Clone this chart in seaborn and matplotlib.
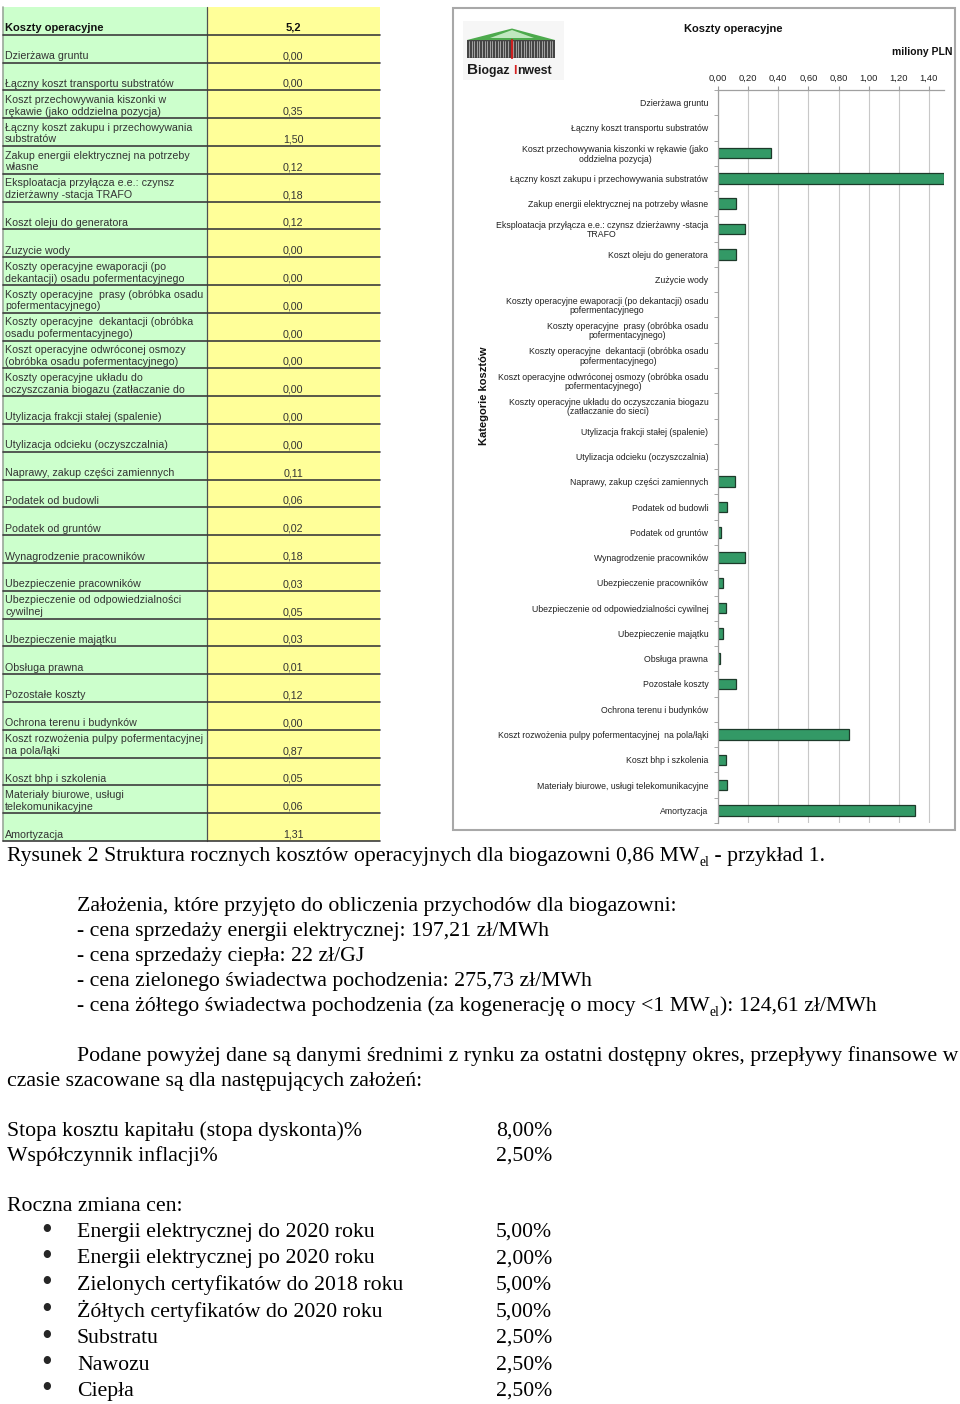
import numpy as np
import pandas as pd
import matplotlib
matplotlib.use("Agg")
import matplotlib.pyplot as plt
import seaborn as sns
from matplotlib.patches import Rectangle, Polygon

# ---------------- data ----------------
chart_labels = [
    "Dzierżawa gruntu",
    "Łączny koszt transportu substratów",
    "Koszt przechowywania kiszonki w rękawie (jako\noddzielna pozycja)",
    "Łączny koszt zakupu i przechowywania substratów",
    "Zakup energii elektrycznej na potrzeby własne",
    "Eksploatacja przyłącza e.e.: czynsz dzierżawny -stacja\nTRAFO",
    "Koszt oleju do generatora",
    "Zużycie wody",
    "Koszty operacyjne ewaporacji (po dekantacji) osadu\npofermentacyjnego",
    "Koszty operacyjne  prasy (obróbka osadu\npofermentacyjnego)",
    "Koszty operacyjne  dekantacji (obróbka osadu\npofermentacyjnego)",
    "Koszt operacyjne odwróconej osmozy (obróbka osadu\npofermentacyjnego)",
    "Koszty operacyjne układu do oczyszczania biogazu\n(zatłaczanie do sieci)",
    "Utylizacja frakcji stałej (spalenie)",
    "Utylizacja odcieku (oczyszczalnia)",
    "Naprawy, zakup części zamiennych",
    "Podatek od budowli",
    "Podatek od gruntów",
    "Wynagrodzenie pracowników",
    "Ubezpieczenie pracowników",
    "Ubezpieczenie od odpowiedzialności cywilnej",
    "Ubezpieczenie majątku",
    "Obsługa prawna",
    "Pozostałe koszty",
    "Ochrona terenu i budynków",
    "Koszt rozwożenia pulpy pofermentacyjnej  na pola/łąki",
    "Koszt bhp i szkolenia",
    "Materiały biurowe, usługi telekomunikacyjne",
    "Amortyzacja",
]

table_labels = [
    "Dzierżawa gruntu",
    "Łączny koszt transportu substratów",
    "Koszt przechowywania kiszonki w\nrękawie (jako oddzielna pozycja)",
    "Łączny koszt zakupu i przechowywania\nsubstratów",
    "Zakup energii elektrycznej na potrzeby\nwłasne",
    "Eksploatacja przyłącza e.e.: czynsz\ndzierżawny -stacja TRAFO",
    "Koszt oleju do generatora",
    "Zuzycie wody",
    "Koszty operacyjne ewaporacji (po\ndekantacji) osadu pofermentacyjnego",
    "Koszty operacyjne  prasy (obróbka osadu\npofermentacyjnego)",
    "Koszty operacyjne  dekantacji (obróbka\nosadu pofermentacyjnego)",
    "Koszt operacyjne odwróconej osmozy\n(obróbka osadu pofermentacyjnego)",
    "Koszty operacyjne układu do\noczyszczania biogazu (zatłaczanie do",
    "Utylizacja frakcji stałej (spalenie)",
    "Utylizacja odcieku (oczyszczalnia)",
    "Naprawy, zakup części zamiennych",
    "Podatek od budowli",
    "Podatek od gruntów",
    "Wynagrodzenie pracowników",
    "Ubezpieczenie pracowników",
    "Ubezpieczenie od odpowiedzialności\ncywilnej",
    "Ubezpieczenie majątku",
    "Obsługa prawna",
    "Pozostałe koszty",
    "Ochrona terenu i budynków",
    "Koszt rozwożenia pulpy pofermentacyjnej\nna pola/łąki",
    "Koszt bhp i szkolenia",
    "Materiały biurowe, usługi\ntelekomunikacyjne",
    "Amortyzacja",
]

costs = [0.00, 0.00, 0.35, 1.50, 0.12, 0.18, 0.12, 0.00, 0.00, 0.00,
         0.00, 0.00, 0.00, 0.00, 0.00, 0.11, 0.06, 0.02, 0.18, 0.03,
         0.05, 0.03, 0.01, 0.12, 0.00, 0.87, 0.05, 0.06, 1.31]

x_ticks = [0.0, 0.2, 0.4, 0.6, 0.8, 1.0, 1.2, 1.4]
x_tick_labels = ["0,00", "0,20", "0,40", "0,60", "0,80", "1,00", "1,20", "1,40"]

chart_title = "Koszty operacyjne"
unit_label = "miliony PLN"
y_axis_label = "Kategorie kosztów"
table_header = "Koszty operacyjne"

caption_parts = [("Rysunek 2 Struktura rocznych kosztów operacyjnych dla biogazowni 0,86 MW", False),
                 ("el", True), (" - przykład 1.", False)]
assumption_lines = [
    [("Założenia, które przyjęto do obliczenia przychodów dla biogazowni:", False)],
    [("- cena sprzedaży energii elektrycznej: 197,21 zł/MWh", False)],
    [("- cena sprzedaży ciepła: 22 zł/GJ", False)],
    [("- cena zielonego świadectwa pochodzenia: 275,73 zł/MWh", False)],
    [("- cena żółtego świadectwa pochodzenia (za kogenerację o mocy <1 MW", False),
     ("el", True), ("): 124,61 zł/MWh", False)],
]
para_line1 = "Podane powyżej dane są danymi średnimi z rynku za ostatni dostępny okres, przepływy finansowe w"
para_line2 = "czasie szacowane są dla następujących założeń:"
rate_names = ["Stopa kosztu kapitału (stopa dyskonta)%", "Współczynnik inflacji%"]
rate_values = ["8,00%", "2,50%"]
change_title = "Roczna zmiana cen:"
change_names = ["Energii elektrycznej do 2020 roku", "Energii elektrycznej po 2020 roku",
                "Zielonych certyfikatów do 2018 roku", "Żółtych certyfikatów do 2020 roku",
                "Substratu", "Nawozu", "Ciepła"]
change_values = ["5,00%", "2,00%", "5,00%", "5,00%", "2,50%", "2,50%", "2,50%"]

# ---------------- setup ----------------
W, H = 960, 1404
sns.set_style("white")
plt.rcParams['font.family'] = ['Liberation Sans', 'DejaVu Sans']
SERIF = ['Liberation Serif', 'DejaVu Serif']

fig = plt.figure(figsize=(W / 100, H / 100), dpi=100)
page = fig.add_axes([0, 0, 1, 1], zorder=0)
page.set_xlim(0, W)
page.set_ylim(H, 0)
page.axis('off')


def box(l, t, r, b):
    return [l / W, 1 - b / H, (r - l) / W, (b - t) / H]


# ---------------- left table ----------------
T_TOP, ROW_H = 7.0, 27.8
n_rows = len(costs) + 1
T_BOT = T_TOP + ROW_H * n_rows
X_L, X_MID, X_R = 3, 207, 380
page.add_patch(Rectangle((X_L, T_TOP), X_MID - X_L, T_BOT - T_TOP, fc='#ccffcc', ec='none'))
page.add_patch(Rectangle((X_MID, T_TOP), X_R - X_MID, T_BOT - T_TOP, fc='#ffff99', ec='none'))
page.plot([X_L, X_L], [T_TOP, T_BOT], color='#9aa89a', lw=1.2)
page.plot([X_MID, X_MID], [T_TOP, T_BOT], color='#505050', lw=0.9)
for k in range(1, n_rows + 1):
    yb = T_TOP + ROW_H * k
    page.plot([X_L, X_R], [yb, yb], color='#3c3c3c', lw=1.2)

total = sum(costs)
page.text(5, T_TOP + ROW_H - 2, table_header, fontsize=8, fontweight='bold', color='#111',
          va='bottom', ha='left')
page.text(293, T_TOP + ROW_H - 2, f"{total:.1f}".replace('.', ','), fontsize=8,
          fontweight='bold', color='#111', va='bottom', ha='center')
for i, (lab, v) in enumerate(zip(table_labels, costs)):
    yb = T_TOP + ROW_H * (i + 2) - 1.5
    page.text(5, yb, lab, fontsize=7.7, color='#333', va='bottom', ha='left', linespacing=1.22)
    page.text(293, yb, f"{v:.2f}".replace('.', ','), fontsize=7.7, color='#333',
              va='bottom', ha='center')

# ---------------- chart frame, title, logo ----------------
page.add_patch(Rectangle((453, 8), 502, 822, fill=False, ec='#a8a8a8', lw=1.5))
page.text(733, 29, chart_title, ha='center', va='center', fontsize=8, fontweight='bold', color='#111')
page.text(953, 52, unit_label, ha='right', va='center', fontsize=7.5, fontweight='bold', color='#111')

# logo
page.add_patch(Rectangle((463, 21), 101, 59, fc='#f6f6f6', ec='none'))
page.add_patch(Polygon([(467, 40), (512, 28.5), (555, 40)], closed=True, fc='#4daa4d', ec='none'))
page.add_patch(Polygon([(490, 38), (512, 30), (534, 38)], closed=True, fc='#bfe8bf', ec='none'))
page.add_patch(Rectangle((467, 40), 88, 18, fc='#454545', ec='none'))
for xx in np.arange(469, 554, 2.6):
    page.plot([xx, xx], [41, 57], color='#c8c8c8', lw=0.5)
page.plot([512, 512], [40, 58], color='#cc1f1f', lw=1.6)

renderer = fig.canvas.get_renderer()


def put_runs(x, y, parts, size, family, color='#000', weight='normal'):
    for txt, sub, *rest in parts:
        col = rest[0] if rest else color
        sz = size * (0.62 if sub else 1.0)
        t = page.text(x, y + (size * 0.35 if sub else 0), txt, fontsize=sz, family=family,
                      va='baseline', ha='left', color=col, fontweight=weight)
        x += t.get_window_extent(renderer).width
    return x


xe = put_runs(467, 74, [("B", False)], 11, ['Liberation Sans'], color='#1a1a1a', weight='bold')
put_runs(xe + 0.5, 74, [("iogaz ", False), ("I", False, '#d42020'), ("nwest", False)], 8.8,
         ['Liberation Sans'], color='#1a1a1a', weight='bold')

# ---------------- bar chart ----------------
ax = fig.add_axes(box(718, 90, 944, 823), zorder=2)
ax.patch.set_alpha(0)
df = pd.DataFrame({"category": chart_labels, "value": costs})
sns.barplot(data=df, x="value", y="category", orient="h", color="#339966", saturation=1,
            width=0.42, edgecolor="#1d3a2a", linewidth=0.9, ax=ax)
for p in ax.patches:
    if p.get_width() == 0:
        p.set_visible(False)

ax.set_xlim(0, 1.5)
ax.set_ylim(len(costs) - 0.5, -0.5)
ax.xaxis.tick_top()
ax.set_xticks(x_ticks)
ax.set_xticklabels(x_tick_labels, fontsize=6.8, color='#222')
ax.tick_params(axis='x', length=3, color='#999999', pad=2, top=True, bottom=False)
ax.set_yticks(range(len(chart_labels)))
ax.set_yticklabels(chart_labels, fontsize=6.3, color='#222')
for lbl in ax.get_yticklabels():
    lbl.set_multialignment('center')
    lbl.set_linespacing(1.05)
ax.tick_params(axis='y', which='major', length=0, pad=7)
ax.set_yticks(np.arange(-0.5, len(costs), 1), minor=True)
ax.tick_params(axis='y', which='minor', length=3, color='#999999', left=True)
ax.grid(axis='x', color='#c8c8c8', lw=0.8)
ax.grid(axis='y', visible=False)
ax.set_axisbelow(True)
for s in ['right', 'bottom']:
    ax.spines[s].set_visible(False)
for s in ['top', 'left']:
    ax.spines[s].set_color('#a0a0a0')
    ax.spines[s].set_linewidth(0.9)
ax.set_xlabel('')
ax.set_ylabel(y_axis_label, fontsize=8, fontweight='bold', color='#111')
ax.yaxis.set_label_coords((489 - 718) / 226, 1 - (396 - 90) / 733)

# ---------------- body text ----------------
FS = 15.7
put_runs(7, 861, caption_parts, FS, SERIF)
for j, parts in enumerate(assumption_lines):
    put_runs(77, 911 + 25 * j, parts, FS, SERIF)
put_runs(77, 1061, [(para_line1, False)], FS, SERIF)
put_runs(7, 1086, [(para_line2, False)], FS, SERIF)
for j, (nm, val) in enumerate(zip(rate_names, rate_values)):
    put_runs(7, 1136 + 25 * j, [(nm, False)], FS, SERIF)
    put_runs(496, 1136 + 25 * j, [(val, False)], FS, SERIF)
put_runs(7, 1211, [(change_title, False)], FS, SERIF)
for j, (nm, val) in enumerate(zip(change_names, change_values)):
    yb = 1237 + 26.5 * j
    page.text(47, yb - 6, "•", fontsize=22, family=SERIF, ha='center', va='center')
    put_runs(77, yb, [(nm, False)], FS, SERIF)
    put_runs(496, yb, [(val, False)], FS, SERIF)

fig.savefig("out.png", dpi=100)
